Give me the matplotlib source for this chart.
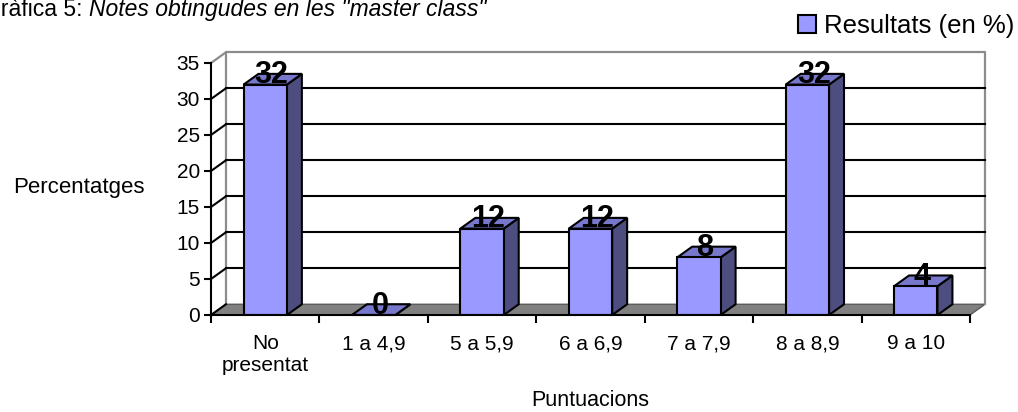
import matplotlib.pyplot as plt
from matplotlib.patches import Polygon

plt.rcParams['font.family'] = ['Liberation Sans', 'DejaVu Sans']

categories = ['No\npresentat', '1 a 4,9', '5 a 5,9', '6 a 6,9', '7 a 7,9', '8 a 8,9', '9 a 10']
values = [32, 0, 12, 12, 8, 32, 4]
series_name = 'Resultats (en %)'
y_ticks = [0, 5, 10, 15, 20, 25, 30, 35]

# fake 3d depth (data units)
dx = 0.138
dy = 1.49
bar_w = 0.4
front_col = '#9999FF'
side_col = '#4D4D80'
top_col = '#7777CC'

fig = plt.figure(figsize=(10.18, 4.12), dpi=100)
ax = fig.add_axes([211 / 1018, 97 / 412, 759 / 1018, 252 / 412])
ax.set_xlim(-0.5, len(categories) - 0.5)
ax.set_ylim(0, 35)

x0, x1 = -0.5, len(categories) - 0.5
ymax = y_ticks[-1]

# floor
floor = Polygon([(x0, 0), (x1, 0), (x1 + dx, dy), (x0 + dx, dy)], closed=True,
                facecolor='#808080', edgecolor='#5a5a5a', lw=1, zorder=1, clip_on=False)
ax.add_patch(floor)

# back wall outline
ax.plot([x0 + dx, x0 + dx, x1 + dx, x1 + dx], [dy, ymax + dy, ymax + dy, dy],
        color='#8c8c8c', lw=1.6, zorder=1, clip_on=False)
ax.plot([x0, x0 + dx], [ymax, ymax + dy], color='#8c8c8c', lw=1.6, zorder=1, clip_on=False)

# gridlines on back wall + side wall diagonals
for t in y_ticks[1:-1]:
    ax.plot([x0 + dx, x1 + dx], [t + dy, t + dy], color='black', lw=1.5, zorder=1, clip_on=False)
for t in y_ticks[:-1]:
    ax.plot([x0, x0 + dx], [t, t + dy], color='black', lw=1.5, zorder=2, clip_on=False)

xs = list(range(len(categories)))
bars = ax.bar(xs, values, width=bar_w, color=front_col, edgecolor='black', lw=1.5,
              zorder=4, label=series_name)

for x, v in zip(xs, values):
    l, r = x - bar_w / 2, x + bar_w / 2
    side = Polygon([(r, 0), (r + dx, dy), (r + dx, v + dy), (r, v)], closed=True,
                   facecolor=side_col, edgecolor='black', lw=1.5, zorder=3, clip_on=False)
    top = Polygon([(l, v), (r, v), (r + dx, v + dy), (l + dx, v + dy)], closed=True,
                  facecolor=top_col, edgecolor='black', lw=1.5, zorder=3, clip_on=False)
    ax.add_patch(side)
    ax.add_patch(top)
    ax.text(x + dx / 2 - 0.01, v + 0.2, str(v), ha='center', va='baseline',
            fontsize=22, fontweight='bold', zorder=6)

# axes styling
for s in ['top', 'right']:
    ax.spines[s].set_visible(False)
for s in ['left', 'bottom']:
    ax.spines[s].set_linewidth(1.5)
    ax.spines[s].set_zorder(5)
ax.set_yticks(y_ticks)
ax.tick_params(axis='y', length=5, width=1.5, labelsize=15, pad=3)
ax.set_xticks(xs)
ax.set_xticklabels(categories, linespacing=1.2)
ax.set_xticks([i - 0.5 for i in range(len(categories) + 1)], minor=True)
ax.tick_params(axis='x', which='major', length=0, labelsize=15, pad=14)
ax.tick_params(axis='x', which='minor', length=6, width=1.5)

ax.set_ylabel('Percentatges', fontsize=16, rotation=0, ha='left', va='center')
ax.yaxis.set_label_coords(-198 / 759, (315 - 187) / 252)
ax.set_xlabel('Puntuacions', fontsize=15.5, va='top')
ax.xaxis.set_label_coords(0.5, -(390 - 315) / 252)

leg = fig.legend(loc='center right', bbox_to_anchor=(1014 / 1018, 1 - 26 / 412), frameon=False,
                 fontsize=18.5, handlelength=0.68, handleheight=0.68, handletextpad=0.3,
                 borderpad=0, borderaxespad=0)

# title, the start of it is outside the canvas (as in the original)
t1 = fig.text(-17 / 1018, 1 - 16 / 412, 'Gràfica 5: ', fontsize=16.5, ha='left', va='baseline')
fig.canvas.draw()
bb = t1.get_window_extent()
fig.text(bb.x1 / 1018, 1 - 16 / 412, 'Notes obtingudes en les "master class"', fontsize=16.5,
         style='italic', ha='left', va='baseline')

fig.savefig('out.png', dpi=100)
